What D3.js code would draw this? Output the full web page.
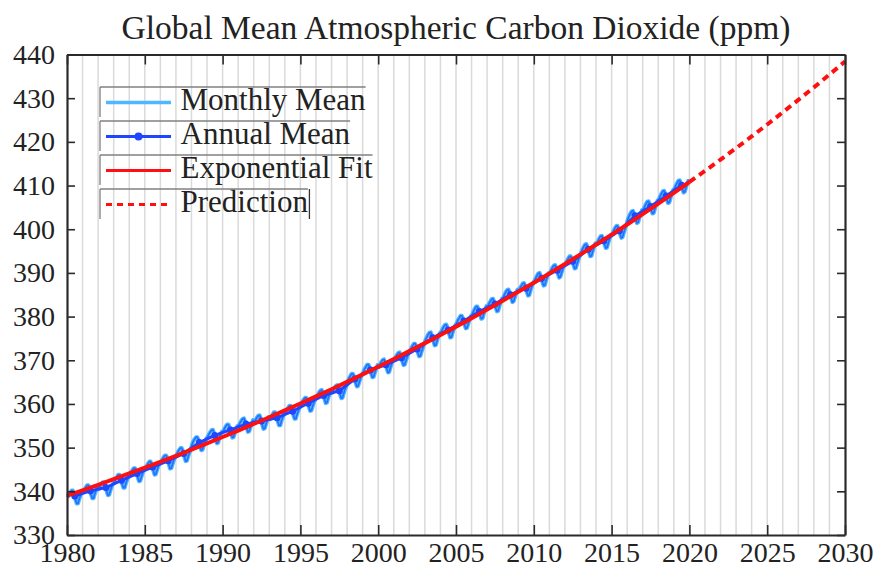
<!DOCTYPE html>
<html>
<head>
<meta charset="utf-8">
<script src="https://cdn.jsdelivr.net/npm/d3@7"></script>
<style>
  html, body { margin: 0; padding: 0; background: #fff; }
  svg { display: block; }
  text { font-family: "Liberation Serif", "Times New Roman", Times, serif; fill: #222; }
</style>
</head>
<body>
<svg id="chart" width="875" height="567"></svg>
<script>
// Global mean CO2 (ppm), NOAA-style global marine surface record
const years = d3.range(1980, 2020);

const annualMean = [
  338.91, 340.11, 340.86, 342.53, 344.07, 345.54, 346.97, 348.68, 351.16, 352.79,
  354.06, 355.39, 356.09, 356.83, 358.33, 360.17, 361.93, 363.05, 365.70, 367.80,
  368.96, 370.57, 372.58, 375.15, 376.95, 378.98, 381.15, 382.90, 385.02, 386.50,
  388.76, 390.63, 392.65, 395.40, 397.34, 399.65, 403.06, 405.22, 407.61, 410.07
];

// one row per year, January..December
const monthlyMean = [
  [338.6, 339.2, 339.7, 340.2, 340.2, 339.4, 338.1, 337.2, 337.2, 338.3, 339.1, 339.9],
  [339.8, 340.4, 340.9, 341.4, 341.4, 340.6, 339.3, 338.4, 338.4, 339.5, 340.3, 341.1],
  [340.5, 341.2, 341.7, 342.1, 342.1, 341.4, 340.1, 339.1, 339.2, 340.2, 341.1, 341.8],
  [342.2, 342.8, 343.3, 343.8, 343.8, 343.0, 341.7, 340.8, 340.8, 341.9, 342.7, 343.5],
  [343.7, 344.4, 344.9, 345.3, 345.3, 344.6, 343.3, 342.3, 342.4, 343.4, 344.3, 345.0],
  [345.2, 345.8, 346.4, 346.8, 346.8, 346.0, 344.8, 343.8, 343.9, 344.9, 345.8, 346.5],
  [346.6, 347.3, 347.8, 348.2, 348.2, 347.5, 346.2, 345.2, 345.3, 346.3, 347.2, 347.9],
  [348.3, 349.0, 349.5, 349.9, 349.9, 349.2, 347.9, 346.9, 347.0, 348.0, 348.9, 349.6],
  [350.8, 351.5, 352.0, 352.4, 352.4, 351.7, 350.4, 349.4, 349.5, 350.5, 351.4, 352.1],
  [352.5, 353.1, 353.6, 354.0, 354.1, 353.3, 352.0, 351.0, 351.1, 352.1, 353.0, 353.7],
  [353.7, 354.4, 354.9, 355.3, 355.3, 354.6, 353.3, 352.3, 352.4, 353.4, 354.3, 355.0],
  [355.1, 355.7, 356.2, 356.6, 356.7, 355.9, 354.6, 353.6, 353.7, 354.7, 355.6, 356.3],
  [355.8, 356.4, 356.9, 357.3, 357.4, 356.6, 355.3, 354.3, 354.4, 355.4, 356.3, 357.0],
  [356.5, 357.1, 357.6, 358.1, 358.1, 357.3, 356.0, 355.1, 355.1, 356.2, 357.0, 357.8],
  [358.0, 358.6, 359.1, 359.6, 359.6, 358.8, 357.5, 356.6, 356.6, 357.7, 358.5, 359.3],
  [359.8, 360.5, 361.0, 361.4, 361.4, 360.7, 359.4, 358.4, 358.5, 359.5, 360.4, 361.1],
  [361.5, 362.1, 362.7, 363.1, 363.2, 362.4, 361.2, 360.2, 360.3, 361.4, 362.3, 363.0],
  [362.6, 363.2, 363.8, 364.2, 364.3, 363.5, 362.3, 361.3, 361.4, 362.5, 363.4, 364.1],
  [365.2, 365.9, 366.4, 366.9, 366.9, 366.2, 364.9, 364.0, 364.1, 365.1, 366.0, 366.8],
  [367.3, 368.0, 368.5, 369.0, 369.0, 368.3, 367.0, 366.1, 366.2, 367.2, 368.1, 368.9],
  [368.5, 369.1, 369.7, 370.1, 370.2, 369.4, 368.2, 367.2, 367.3, 368.4, 369.3, 370.0],
  [370.1, 370.7, 371.3, 371.7, 371.8, 371.0, 369.8, 368.9, 369.0, 370.0, 370.9, 371.7],
  [372.1, 372.8, 373.3, 373.8, 373.8, 373.1, 371.8, 370.9, 371.0, 372.0, 372.9, 373.7],
  [374.7, 375.3, 375.9, 376.3, 376.4, 375.6, 374.4, 373.4, 373.5, 374.6, 375.5, 376.2],
  [376.5, 377.1, 377.7, 378.1, 378.2, 377.4, 376.2, 375.2, 375.3, 376.4, 377.3, 378.0],
  [378.5, 379.2, 379.7, 380.2, 380.2, 379.5, 378.2, 377.3, 377.4, 378.4, 379.3, 380.1],
  [380.5, 381.2, 381.8, 382.3, 382.3, 381.6, 380.4, 379.5, 379.6, 380.7, 381.6, 382.4],
  [382.3, 383.0, 383.5, 384.0, 384.1, 383.4, 382.1, 381.2, 381.3, 382.4, 383.3, 384.1],
  [384.4, 385.1, 385.7, 386.1, 386.2, 385.5, 384.3, 383.3, 383.5, 384.5, 385.5, 386.2],
  [385.9, 386.6, 387.1, 387.6, 387.7, 387.0, 385.7, 384.8, 384.9, 386.0, 386.9, 387.7],
  [388.2, 388.8, 389.4, 389.9, 390.0, 389.2, 388.0, 387.1, 387.2, 388.3, 389.2, 390.0],
  [390.0, 390.7, 391.3, 391.7, 391.8, 391.1, 389.9, 388.9, 389.1, 390.1, 391.1, 391.8],
  [392.0, 392.7, 393.3, 393.8, 393.8, 393.1, 391.9, 391.0, 391.1, 392.2, 393.1, 393.9],
  [394.7, 395.4, 396.0, 396.5, 396.6, 395.9, 394.7, 393.8, 393.9, 395.0, 396.0, 396.8],
  [396.6, 397.3, 397.9, 398.4, 398.5, 397.8, 396.6, 395.7, 395.8, 396.9, 397.9, 398.7],
  [398.9, 399.6, 400.2, 400.7, 400.8, 400.1, 398.9, 398.0, 398.2, 399.3, 400.2, 401.0],
  [402.3, 403.0, 403.6, 404.1, 404.2, 403.5, 402.3, 401.4, 401.6, 402.7, 403.6, 404.4],
  [404.5, 405.2, 405.8, 406.3, 406.4, 405.7, 404.5, 403.6, 403.7, 404.8, 405.8, 406.6],
  [406.9, 407.6, 408.2, 408.7, 408.8, 408.1, 406.9, 406.0, 406.1, 407.2, 408.2, 409.0],
  [409.3, 410.0, 410.6, 411.1, 411.2, 410.5, 409.3, 408.4, 408.6, 409.7, 410.6, 411.4]
];

// exponential fit over the record, evaluated yearly
const fitYears = d3.range(1980, 2021);
const fitValues = [
  339.00, 340.24, 341.50, 342.78, 344.08, 345.41, 346.77, 348.14, 349.55, 350.98,
  352.43, 353.91, 355.42, 356.95, 358.52, 360.11, 361.73, 363.38, 365.06, 366.77,
  368.51, 370.28, 372.09, 373.93, 375.80, 377.70, 379.64, 381.62, 383.63, 385.68,
  387.76, 389.88, 392.04, 394.25, 396.49, 398.77, 401.09, 403.45, 405.86, 408.31,
  410.81
];

// extension of the fit to 2030
const predictionYears = d3.range(2020, 2031);
const predictionValues = [
  410.81, 413.35, 415.94, 418.57, 421.25, 423.98, 426.77, 429.60, 432.48, 435.41, 438.40
];

const xTicks = [1980, 1985, 1990, 1995, 2000, 2005, 2010, 2015, 2020, 2025, 2030];
const yTicks = [330, 340, 350, 360, 370, 380, 390, 400, 410, 420, 430, 440];
const legendLabels = ["Monthly Mean", "Annual Mean", "Exponential Fit", "Prediction"];

const title = "Global Mean Atmospheric Carbon Dioxide (ppm)";

const colors = {
  monthly: "#4db8ff",
  annual: "#1f45ff",
  fit: "#ff1010",
  grid: "#dadada",
  axis: "#2a2a2a",
  legendBox: "#808080"
};

const svg = d3.select("#chart");
const margin = { left: 67, right: 30, top: 54.5, bottom: 32 };
const W = 875, H = 567;

const x = d3.scaleLinear().domain([1980, 2030]).range([margin.left, W - margin.right]);
const y = d3.scaleLinear().domain([330, 440]).range([H - margin.bottom, margin.top]);

// yearly vertical grid
svg.append("g")
  .selectAll("line")
  .data(d3.range(1981, 2030))
  .join("line")
  .attr("x1", d => x(d)).attr("x2", d => x(d))
  .attr("y1", y(330)).attr("y2", y(440))
  .attr("stroke", colors.grid)
  .attr("stroke-width", 1.5);

// monthly series
const monthlyPoints = [];
monthlyMean.forEach((row, i) => {
  row.forEach((v, m) => monthlyPoints.push([years[i] + (m + 0.5) / 12, v]));
});

const line = d3.line().x(d => x(d[0])).y(d => y(d[1]));

svg.append("path")
  .datum(monthlyPoints)
  .attr("fill", "none")
  .attr("stroke", colors.monthly)
  .attr("stroke-width", 4)
  .attr("stroke-linejoin", "round")
  .attr("d", line);

svg.append("path")
  .datum(monthlyPoints)
  .attr("fill", "none")
  .attr("stroke", "#1a5cff")
  .attr("stroke-width", 1.6)
  .attr("stroke-opacity", 0.8)
  .attr("stroke-linejoin", "round")
  .attr("d", line);

// annual means
const annualPoints = years.map((yr, i) => [yr + 0.5, annualMean[i]]);
svg.append("path")
  .datum(annualPoints)
  .attr("fill", "none")
  .attr("stroke", colors.annual)
  .attr("stroke-width", 3)
  .attr("d", line);
svg.append("g")
  .selectAll("circle")
  .data(annualPoints)
  .join("circle")
  .attr("cx", d => x(d[0]))
  .attr("cy", d => y(d[1]))
  .attr("r", 3.5)
  .attr("fill", colors.annual);

// exponential fit and prediction
svg.append("path")
  .datum(fitYears.map((yr, i) => [yr, fitValues[i]]))
  .attr("fill", "none")
  .attr("stroke", colors.fit)
  .attr("stroke-width", 4)
  .attr("d", line.curve(d3.curveMonotoneX));

svg.append("path")
  .datum(predictionYears.map((yr, i) => [yr, predictionValues[i]]))
  .attr("fill", "none")
  .attr("stroke", colors.fit)
  .attr("stroke-width", 4)
  .attr("stroke-dasharray", "7,5")
  .attr("d", line.curve(d3.curveMonotoneX));

// axes: ticks point inward on all four sides
const tickFont = 28;
function styleAxis(g) {
  g.selectAll(".domain").attr("stroke", colors.axis).attr("stroke-width", 2.2);
  g.selectAll(".tick line").attr("stroke", colors.axis).attr("stroke-width", 1.6);
  g.selectAll(".tick text")
    .attr("font-family", "Liberation Serif, Times New Roman, serif")
    .attr("font-size", tickFont)
    .attr("fill", "#222");
}

svg.append("g")
  .attr("transform", `translate(0,${y(330)})`)
  .call(d3.axisBottom(x).tickValues(xTicks).tickFormat(d3.format("d")).tickSize(-10).tickSizeOuter(0).tickPadding(7))
  .call(styleAxis);

svg.append("g")
  .attr("transform", `translate(0,${y(440)})`)
  .call(d3.axisTop(x).tickValues(xTicks).tickFormat("").tickSize(-10).tickSizeOuter(0))
  .call(styleAxis);

svg.append("g")
  .attr("transform", `translate(${x(1980)},0)`)
  .call(d3.axisLeft(y).tickValues(yTicks).tickFormat(d3.format("d")).tickSize(-8).tickSizeOuter(0).tickPadding(12))
  .call(styleAxis);

svg.append("g")
  .attr("transform", `translate(${x(2030)},0)`)
  .call(d3.axisRight(y).tickValues(yTicks).tickFormat("").tickSize(-8).tickSizeOuter(0))
  .call(styleAxis);

// title
svg.append("text")
  .attr("x", (x(1980) + x(2030)) / 2)
  .attr("y", 39)
  .attr("text-anchor", "middle")
  .attr("font-size", 33.5)
  .text(title);

// legend: one outlined row per series
const legendX = 100, legendTop = 87, rowH = 34;
const legend = svg.append("g");
legendLabels.forEach((label, i) => {
  const top = legendTop + i * rowH;
  const g = legend.append("g");
  const txt = g.append("text")
    .attr("x", 180.5)
    .attr("y", top + 23)
    .attr("font-size", 31)
    .text(label);
  const right = 180.5 + txt.node().getComputedTextLength();
  g.append("line")
    .attr("x1", legendX).attr("x2", right)
    .attr("y1", top).attr("y2", top)
    .attr("stroke", colors.legendBox).attr("stroke-width", 1.3);
  g.append("line")
    .attr("x1", legendX).attr("x2", legendX)
    .attr("y1", top).attr("y2", top + 30)
    .attr("stroke", colors.legendBox).attr("stroke-width", 1.3);
  if (i === legendLabels.length - 1) {
    g.append("line")
      .attr("x1", right + 1.5).attr("x2", right + 1.5)
      .attr("y1", top).attr("y2", top + 30)
      .attr("stroke", "#333").attr("stroke-width", 1.3);
  }
  const ly = top + 15.5;
  const sample = g.append("line")
    .attr("x1", 106).attr("x2", 171)
    .attr("y1", ly).attr("y2", ly)
    .attr("stroke-width", i === 0 ? 3.5 : 3);
  if (i === 0) sample.attr("stroke", colors.monthly);
  if (i === 1) {
    sample.attr("stroke", colors.annual);
    g.append("circle").attr("cx", 138.5).attr("cy", ly).attr("r", 4).attr("fill", colors.annual);
  }
  if (i === 2) sample.attr("stroke", colors.fit);
  if (i === 3) sample.attr("stroke", colors.fit).attr("stroke-dasharray", "6,5");
});
</script>
</body>
</html>
